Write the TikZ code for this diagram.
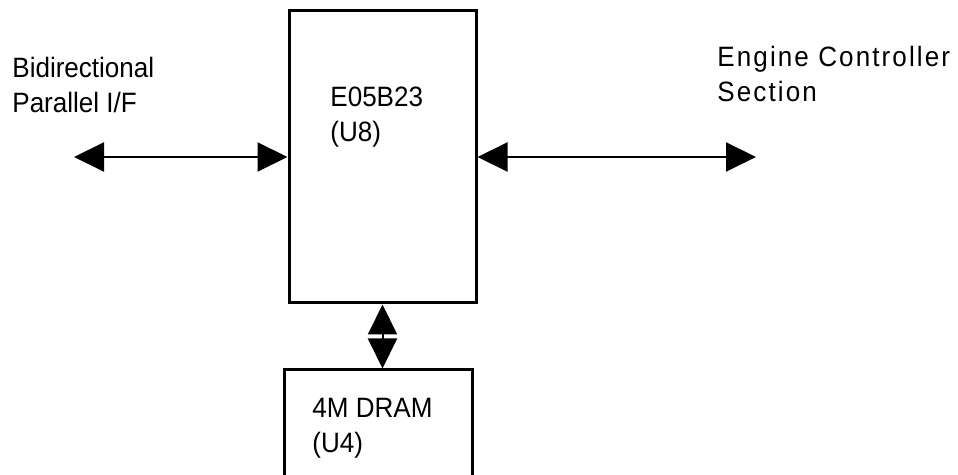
\documentclass[tikz,border=0pt]{standalone}
\usepackage{fontspec}
\setsansfont[FakeStretch=0.93]{Liberation Sans}
\newfontfamily\widesf[FakeStretch=0.93,LetterSpace=7.5]{Liberation Sans}
\usetikzlibrary{arrows.meta}

\tikzset{
  blk/.style={draw, line width=1.5pt, inner sep=0pt},
  lbl/.style={anchor=base west, align=left, inner sep=0pt,
    font=\sffamily\fontsize{14}{17.5}\selectfont},
  bus/.style={line width=1pt, {Triangle[length=15pt,width=14.5pt]}-{Triangle[length=15pt,width=14.5pt]}}
}

\begin{document}
\begin{tikzpicture}[x=0.5pt, y=-0.5pt]
  % Page frame
  \clip (0,0) rectangle (958,475);

  % Controller (U8)
  \node[blk, minimum width=93.5pt, minimum height=146pt] (u8) at (382.5,157) {};
  \node[lbl] (u8txt) at (330,142) {E05B23\\(U8)};

  % DRAM (U4), runs off the bottom edge
  \node[blk, minimum width=94pt, minimum height=65pt] (u4) at (378,435) {};
  \node[lbl] (u4txt) at (312,452) {4M DRAM\\(U4)};

  % Outside labels (anchored on the last line)
  \node[lbl] (pif) at (12,113) {Bidirectional\\Parallel I/F};
  \node[lbl, font=\widesf\fontsize{14}{17.5}\selectfont] (ecs) at (717,102) {Engine Controller\\Section};

  % Bus ends
  \coordinate (pifend) at (74,157);
  \coordinate (ecsend) at (756,157);

  % Buses
  \draw[bus] (pifend) -- (u8.west);
  \draw[bus] (u8.east) -- (ecsend);
  \draw[bus] (u8.south) -- (u8.south |- u4.north);

\end{tikzpicture}
\end{document}
